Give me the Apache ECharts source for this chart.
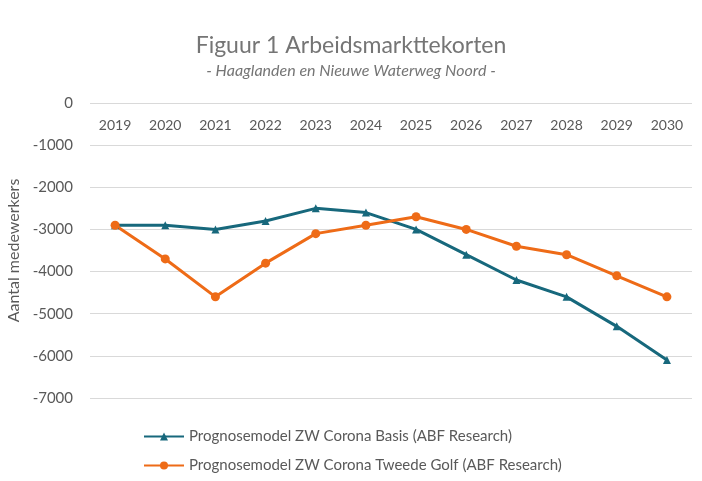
<!DOCTYPE html>
<html>
<head>
<meta charset="utf-8">
<script src="https://cdn.jsdelivr.net/npm/echarts@6/dist/echarts.min.js"></script>
<style>
  html, body { margin: 0; padding: 0; background: #fff; }
  #chart { width: 702px; height: 481px; }
</style>
</head>
<body>
<div id="chart"></div>
<script>
var years = ['2019','2020','2021','2022','2023','2024','2025','2026','2027','2028','2029','2030'];
var basis = [-2900,-2900,-3000,-2800,-2500,-2600,-3000,-3600,-4200,-4600,-5300,-6100];
var tweedeGolf = [-2900,-3700,-4600,-3800,-3100,-2900,-2700,-3000,-3400,-3600,-4100,-4600];
var seriesNames = ['Prognosemodel ZW Corona Basis (ABF Research)','Prognosemodel ZW Corona Tweede Golf (ABF Research)'];

var font = 'Lato, "Noto Sans", sans-serif';
var myChart = echarts.init(document.getElementById('chart'));

myChart.setOption({
  animation: false,
  title: {
    text: 'Figuur 1 Arbeidsmarkttekorten',
    subtext: '- Haaglanden en Nieuwe Waterweg Noord -',
    left: 'center',
    top: 29,
    itemGap: 6,
    textStyle: { color: '#757575', fontFamily: font, fontSize: 23, fontWeight: 'normal' },
    subtextStyle: { color: '#757575', fontFamily: font, fontSize: 16, fontStyle: 'italic' }
  },
  grid: { left: 90, right: 10, top: 103, bottom: 83, outerBoundsMode: 'none' },
  legend: {
    orient: 'vertical',
    left: 138,
    top: 424,
    itemGap: 14,
    itemWidth: 40,
    itemHeight: 10,
    textStyle: { color: '#595959', fontFamily: font, fontSize: 15 },
    data: seriesNames
  },
  xAxis: {
    type: 'category',
    position: 'top',
    data: years,
    axisLine: { show: false },
    axisTick: { show: false },
    axisLabel: { inside: true, margin: 15, color: '#595959', fontFamily: font, fontSize: 14 }
  },
  yAxis: {
    type: 'value',
    min: -7000,
    max: 0,
    interval: 1000,
    name: 'Aantal medewerkers',
    nameLocation: 'middle',
    nameGap: 66,
    nameTextStyle: { color: '#595959', fontFamily: font, fontSize: 16 },
    axisLine: { show: false },
    axisTick: { show: false },
    axisLabel: { margin: 17, color: '#595959', fontFamily: font, fontSize: 15, formatter: function (v) { return String(v); } },
    splitLine: { lineStyle: { color: '#d9d9d9', width: 1 } }
  },
  series: [
    {
      name: seriesNames[0],
      type: 'line',
      data: basis,
      symbol: 'triangle',
      symbolSize: 8,
      lineStyle: { width: 3, color: '#17687C' },
      itemStyle: { color: '#17687C' }
    },
    {
      name: seriesNames[1],
      type: 'line',
      data: tweedeGolf,
      symbol: 'circle',
      symbolSize: 9,
      lineStyle: { width: 3, color: '#EE6B17' },
      itemStyle: { color: '#EE6B17' }
    }
  ]
});
</script>
</body>
</html>
